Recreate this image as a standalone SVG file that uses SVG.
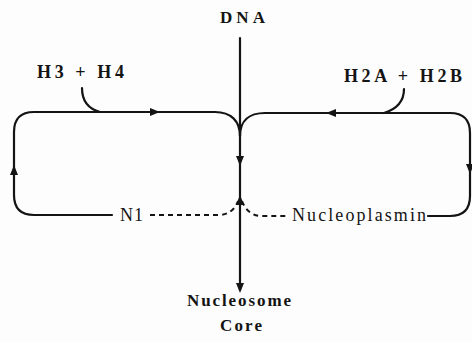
<svg xmlns="http://www.w3.org/2000/svg" width="472" height="343" viewBox="0 0 472 343">
<style>
.ln{fill:none;stroke:#141414;stroke-width:2.2;stroke-linecap:round;stroke-linejoin:round}
.ds{fill:none;stroke:#141414;stroke-width:2;stroke-dasharray:5,4}
.lb{font-family:"Liberation Serif","Times New Roman",serif;font-weight:bold;font-size:18px;fill:#141414}
.lc{font-family:"Liberation Serif","Times New Roman",serif;font-weight:bold;font-size:17px;fill:#141414}
.lm{font-family:"Liberation Serif","Times New Roman",serif;font-size:18px;fill:#141414}
.ah{fill:#141414}
</style>
<defs>
<path id="arr" d="M0 -5 L-4 5 L4 5 Z"/>
</defs>
<rect width="472" height="343" fill="#fdfdfd"/>
<g id="connectors">
<path class="ln" d="M240 38 L240 290"/>
<path class="ln" d="M215 112 C231 112 240 121 240 136"/>
<path class="ln" d="M265 113 C249 113 240 121 240 136"/>
<path class="ln" d="M215 112 L34 112 Q14 112 14 132 L14 195 Q14 215 34 215 L112 215"/>
<path class="ln" d="M265 113 L450 113 Q470 113 470 133 L470 196 Q470 216 450 216 L428 216"/>
<path class="ln" d="M82 88 C82 101 89 109 100 112"/>
<path class="ln" d="M404 89 C404 101 397 109 384 113"/>
<path class="ds" d="M150 215 L218 215 C229 215 235 209 238 201"/>
<path class="ds" d="M242 201 C245 209 251 216 262 216 L289 216"/>
<use href="#arr" class="ah" transform="translate(155 112) rotate(90)"/>
<use href="#arr" class="ah" transform="translate(331 113) rotate(-90)"/>
<use href="#arr" class="ah" transform="translate(14 170)"/>
<use href="#arr" class="ah" transform="translate(470 169) rotate(180)"/>
<use href="#arr" class="ah" transform="translate(240 161) rotate(180)"/>
<use href="#arr" class="ah" transform="translate(240 200)"/>
<use href="#arr" class="ah" transform="translate(240 288) rotate(180)"/>
</g>
<g id="node-dna"><text class="lc" x="220" y="23" textLength="45" lengthAdjust="spacing">DNA</text></g>
<g id="node-h3h4"><text class="lb" x="37" y="78" textLength="87" lengthAdjust="spacing">H3 + H4</text></g>
<g id="node-h2ah2b"><text class="lb" x="344" y="82" textLength="118" lengthAdjust="spacing">H2A + H2B</text></g>
<g id="node-n1"><text class="lm" x="120" y="221" textLength="23" lengthAdjust="spacing">N1</text></g>
<g id="node-nucleoplasmin"><text class="lm" x="292" y="221" textLength="134" lengthAdjust="spacing">Nucleoplasmin</text></g>
<g id="node-core">
<text class="lc" x="187" y="306" textLength="104" lengthAdjust="spacing">Nucleosome</text>
<text class="lc" x="220" y="331" textLength="42" lengthAdjust="spacing">Core</text>
</g>
</svg>
